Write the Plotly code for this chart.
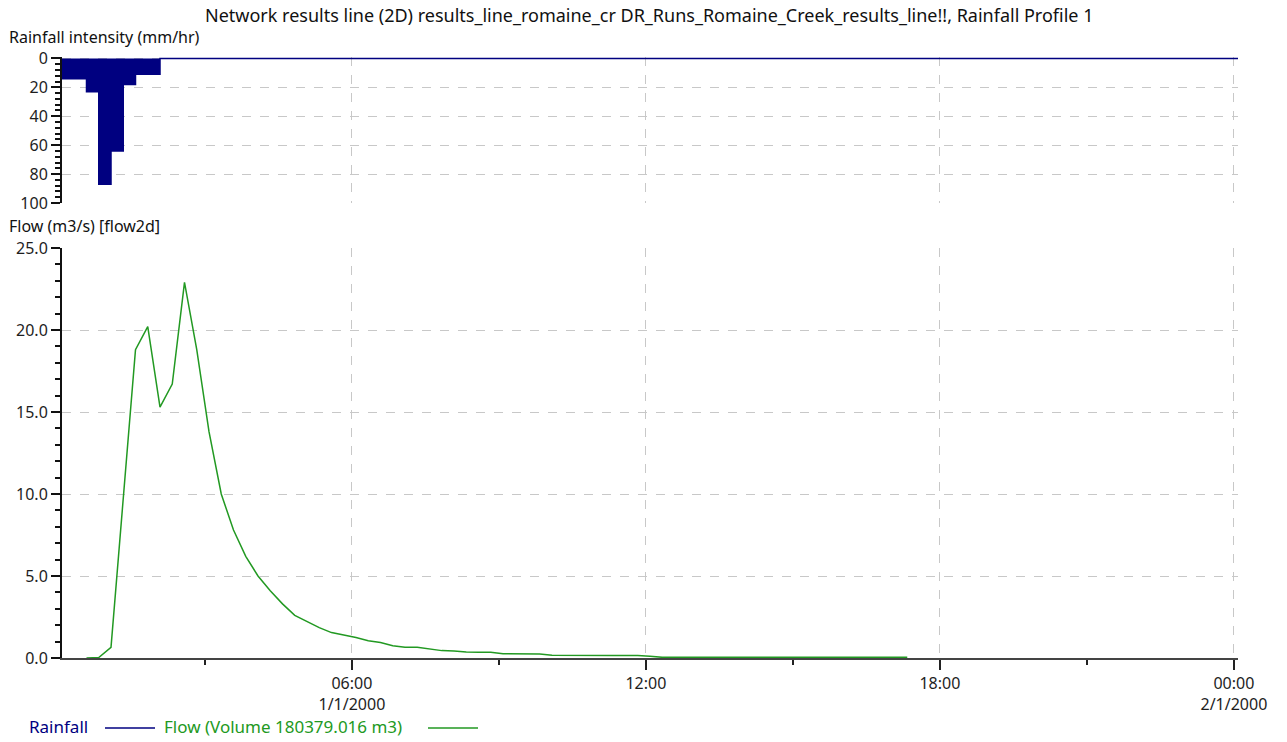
import plotly.graph_objects as go
import pandas as pd

# ---------------- data ----------------
title_text = ("Network results line (2D) results_line_romaine_cr "
              "DR_Runs_Romaine_Creek_results_line!!, Rainfall Profile 1")
rain_label = "Rainfall"
flow_label = "Flow (Volume 180379.016 m3)"

# rainfall intensity (mm/hr), 15-min blocks starting 00:05
rain_start = "2000-01-01 00:05"
rain_values = [14, 14, 23, 87, 64, 18, 11, 11, 0]
rain_end = "2000-01-02 00:05"

# flow (m3/s), 15-min steps starting 00:35
flow_start = "2000-01-01 00:35"
flow_values = [
    0.0, 0.03, 0.65, 10.0, 18.8, 20.2, 15.3, 16.7, 22.9, 18.8,
    13.8, 10.0, 7.8, 6.2, 5.0, 4.1, 3.3, 2.6, 2.2, 1.85,
    1.55, 1.4, 1.25, 1.05, 0.95, 0.75, 0.65, 0.65, 0.55, 0.45,
    0.42, 0.36, 0.35, 0.35, 0.26, 0.26, 0.26, 0.25, 0.17, 0.16,
    0.16, 0.16, 0.16, 0.16, 0.16, 0.16, 0.11, 0.04, 0.04, 0.04,
    0.04, 0.04, 0.04, 0.04, 0.04, 0.04, 0.04, 0.04, 0.04, 0.04,
    0.04, 0.04, 0.04, 0.04, 0.04, 0.04, 0.04, 0.04,
]

x_range = ["2000-01-01 00:05", "2000-01-02 00:05"]
x_tickvals = ["2000-01-01 06:00", "2000-01-01 12:00",
              "2000-01-01 18:00", "2000-01-02 00:00"]
x_ticktext = ["06:00<br>1/1/2000", "12:00", "18:00", "00:00<br>2/1/2000"]
rain_ticks = [0, 20, 40, 60, 80, 100]
flow_ticks = [0, 5, 10, 15, 20, 25]

rain_title = "Rainfall intensity (mm/hr)"
flow_title = "Flow (m3/s) [flow2d]"

# ---------------- build ----------------
rain_x = list(pd.date_range(rain_start, periods=len(rain_values), freq="15min")) + [pd.Timestamp(rain_end)]
rain_y = rain_values + [0]
flow_x = pd.date_range(flow_start, periods=len(flow_values), freq="15min")

NAVY = "#000080"
GREEN = "#229922"
GRID = "#c8c8c8"
FONT = "Noto Sans"

W, H = 1287, 742
PL, PR, PT, PB = 62, 1238, 57, 658   # plot area in screen pixels
L, T = PL, PT
R = W - PR
B = H - PB
PW, PH = PR - PL, PB - PT


def px(x):
    return (x - PL) / PW


def py(y):
    return (PB - y) / PH


fig = go.Figure()
fig.add_trace(go.Scatter(
    x=rain_x, y=rain_y, mode="lines", line=dict(color=NAVY, width=1.5, shape="hv"),
    fill="tozeroy", fillcolor=NAVY, xaxis="x", yaxis="y", name=rain_label,
    showlegend=False))
fig.add_trace(go.Scatter(
    x=flow_x, y=flow_values, mode="lines", line=dict(color=GREEN, width=1.5),
    xaxis="x2", yaxis="y2", name=flow_label, showlegend=False))

tickfont = dict(family=FONT, size=16, color="#1e1e1e")

fig.update_layout(
    width=W, height=H,
    margin=dict(l=L, r=R, t=T, b=B),
    paper_bgcolor="white", plot_bgcolor="white",
    font=dict(family=FONT, size=16, color="#1e1e1e"),
    xaxis=dict(
        domain=[0, 1], anchor="y", type="date", range=x_range,
        tickvals=x_tickvals, ticktext=x_ticktext, showticklabels=False, ticks="",
        showgrid=True, gridcolor=GRID, griddash="dash", gridwidth=1,
        showline=False, zeroline=False,
    ),
    yaxis=dict(
        domain=[1 - 146 / PH, 1], anchor="x", range=[100, -1],
        tickvals=rain_ticks, ticks="outside", ticklen=9, tickwidth=1.5, tickcolor="#111",
        tickfont=tickfont,
        showline=True, linecolor="#111", linewidth=2,
        showgrid=True, gridcolor=GRID, griddash="dash", gridwidth=1, zeroline=False,
        minor=dict(dtick=4, tick0=0, ticks="outside", ticklen=5, tickwidth=1.5,
                   tickcolor="#111", showgrid=False),
    ),
    xaxis2=dict(
        domain=[0, 1], anchor="y2", type="date", range=x_range, matches="x",
        tickvals=x_tickvals, ticktext=x_ticktext, ticks="outside", ticklen=10,
        tickwidth=1.5, tickcolor="#222", tickfont=tickfont,
        showgrid=True, gridcolor=GRID, griddash="dash", gridwidth=1,
        showline=True, linecolor="#444", linewidth=2, zeroline=False,
        layer="below traces",
        minor=dict(dtick=3 * 3600 * 1000, tick0="2000-01-01 00:00", ticks="outside",
                   ticklen=5, tickwidth=1.5, tickcolor="#222", showgrid=False),
    ),
    yaxis2=dict(
        domain=[0, 410 / PH], anchor="x2", range=[0, 25],
        tickvals=flow_ticks, tickformat=".1f", ticks="outside", ticklen=9,
        tickwidth=1.5, tickcolor="#111", tickfont=tickfont,
        showline=True, linecolor="#111", linewidth=2,
        showgrid=True, gridcolor=GRID, griddash="dash", gridwidth=1, zeroline=False,
        minor=dict(dtick=1, tick0=0, ticks="outside", ticklen=5, tickwidth=1.5,
                   tickcolor="#111", showgrid=False),
    ),
)

fig.add_annotation(text=title_text, xref="paper", yref="paper", x=px(649), y=py(15),
                   xanchor="center", yanchor="middle", showarrow=False,
                   font=dict(family=FONT, size=18, color="#111"))
fig.add_annotation(text=rain_title, xref="paper", yref="paper", x=px(7), y=py(37),
                   xanchor="left", yanchor="middle", showarrow=False,
                   font=dict(family=FONT, size=16, color="#111"))
fig.add_annotation(text=flow_title, xref="paper", yref="paper", x=px(7), y=py(226),
                   xanchor="left", yanchor="middle", showarrow=False,
                   font=dict(family=FONT, size=16, color="#111"))

# legend (text followed by line sample)
fig.add_annotation(text=rain_label, xref="paper", yref="paper", x=px(27), y=py(727),
                   xanchor="left", yanchor="middle", showarrow=False,
                   font=dict(family=FONT, size=17, color=NAVY))
fig.add_shape(type="line", xref="paper", yref="paper", x0=px(105), x1=px(155),
              y0=py(728), y1=py(728), line=dict(color=NAVY, width=1.5))
fig.add_annotation(text=flow_label, xref="paper", yref="paper", x=px(162), y=py(727),
                   xanchor="left", yanchor="middle", showarrow=False,
                   font=dict(family=FONT, size=17, color=GREEN))
fig.add_shape(type="line", xref="paper", yref="paper", x0=px(428), x1=px(478),
              y0=py(728), y1=py(728), line=dict(color=GREEN, width=1.5))

fig.write_html("out.html",
               config={"displayModeBar": False},
               post_script="document.body.style.margin='0px';document.body.style.overflow='hidden';")
